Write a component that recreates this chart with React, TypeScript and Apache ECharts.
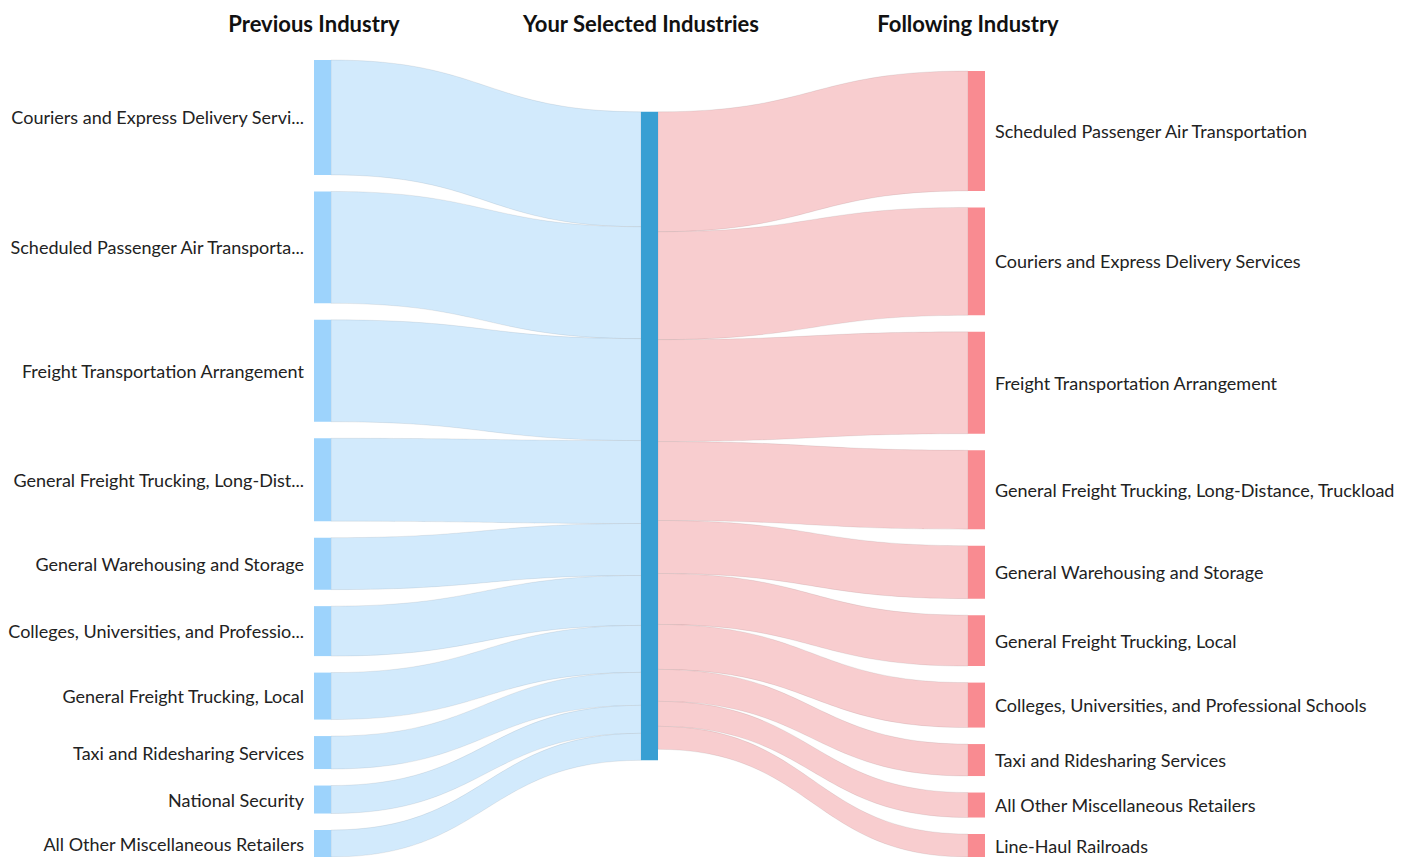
import React, { useEffect, useRef } from "react";
import * as echarts from "echarts";

const headers = ["Previous Industry", "Your Selected Industries", "Following Industry"];
const selectedName = "Your Selected Industries";

const prevIndustries = [
  "Couriers and Express Delivery Services",
  "Scheduled Passenger Air Transportation",
  "Freight Transportation Arrangement",
  "General Freight Trucking, Long-Distance, Truckload",
  "General Warehousing and Storage",
  "Colleges, Universities, and Professional Schools",
  "General Freight Trucking, Local",
  "Taxi and Ridesharing Services",
  "National Security",
  "All Other Miscellaneous Retailers",
];
const prevValues = [115, 112, 102, 83, 52, 50, 47, 33, 28, 27];

const nextIndustries = [
  "Scheduled Passenger Air Transportation",
  "Couriers and Express Delivery Services",
  "Freight Transportation Arrangement",
  "General Freight Trucking, Long-Distance, Truckload",
  "General Warehousing and Storage",
  "General Freight Trucking, Local",
  "Colleges, Universities, and Professional Schools",
  "Taxi and Ridesharing Services",
  "All Other Miscellaneous Retailers",
  "Line-Haul Railroads",
];
const nextValues = [120, 108, 102, 79, 53, 51, 45, 32, 25, 23];

const FONT = "Lato, 'Noto Sans', sans-serif";

export default function App() {
  const ref = useRef<HTMLDivElement>(null);
  useEffect(() => {
    if (!ref.current) return;
    const chart = echarts.init(ref.current, undefined, { renderer: "svg" });

    const nodes: any[] = [];
    prevIndustries.forEach((n) => {
      nodes.push({
        name: "prev:" + n,
        itemStyle: { color: "#9dd3fc" },
        label: {
          show: true,
          position: "left",
          distance: 10,
          width: 297,
          overflow: "truncate",
          ellipsis: "...",
          align: "right",
        },
      });
    });
    nodes.push({
      name: "mid:" + selectedName,
      itemStyle: { color: "#389fd3" },
      label: { show: false },
    });
    nextIndustries.forEach((n) => {
      nodes.push({
        name: "next:" + n,
        itemStyle: { color: "#f98b91" },
        label: { show: true, position: "right", distance: 10 },
      });
    });

    const links: any[] = [];
    prevIndustries.forEach((n, i) => {
      links.push({
        source: "prev:" + n,
        target: "mid:" + selectedName,
        value: prevValues[i],
        lineStyle: { color: "#d2eafc", opacity: 1 },
      });
    });
    nextIndustries.forEach((n, i) => {
      links.push({
        source: "mid:" + selectedName,
        target: "next:" + n,
        value: nextValues[i],
        lineStyle: { color: "#f8cdcf", opacity: 1 },
      });
    });

    const nodeXs = [314, 641, 968];

    chart.setOption({
      animation: false,
      graphic: headers.map((h, i) => ({
        type: "text",
        x: nodeXs[i],
        y: 23,
        style: {
          text: h,
          font: "bold 22px " + FONT,
          fill: "#111",
          textAlign: "center",
          textVerticalAlign: "middle",
        },
      })),
      series: [
        {
          type: "sankey",
          left: 314,
          right: 421,
          top: 60,
          bottom: 0,
          nodeWidth: 17,
          nodeGap: 16.5,
          draggable: false,
          emphasis: { disabled: true },
          data: nodes,
          links,
          label: {
            fontFamily: FONT,
            fontSize: 18,
            color: "#222",
            formatter: (p: any) => String(p.name).replace(/^(prev|next|mid):/, ""),
          },
          itemStyle: { borderWidth: 0 },
          lineStyle: {
            curveness: 0.5,
            borderColor: "rgba(0,0,0,0.07)",
            borderWidth: 1,
          },
        },
      ],
    });
    return () => chart.dispose();
  }, []);
  return (
    <div
      ref={ref}
      style={{ position: "fixed", left: 0, top: 0, width: 1406, height: 857, background: "#fff" }}
    />
  );
}
